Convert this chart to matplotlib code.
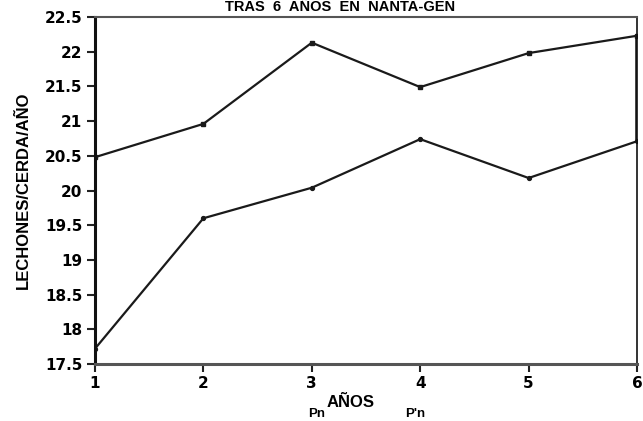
import matplotlib
matplotlib.use('Agg')
import matplotlib.pyplot as plt

plt.rcParams['font.family'] = ['Liberation Sans', 'DejaVu Sans']
plt.rcParams['font.weight'] = 'bold'

years = [1, 2, 3, 4, 5, 6]
pn_prime = [20.48, 20.96, 22.13, 21.49, 21.98, 22.23]
pn = [17.72, 19.60, 20.04, 20.74, 20.18, 20.71]
yticks = [17.5, 18, 18.5, 19, 19.5, 20, 20.5, 21, 21.5, 22, 22.5]
ytick_labels = ['17.5', '18', '18.5', '19', '19.5', '20', '20.5', '21', '21.5', '22', '22.5']

fig = plt.figure(figsize=(6.43, 4.21), dpi=100)
ax = fig.add_axes([0.1477, 0.1354, 0.8430, 0.8242])

ax.plot(years, pn_prime, '-', color='#1a1a1a', linewidth=1.6, marker='s', markersize=3.2)
ax.plot(years, pn, '-', color='#1a1a1a', linewidth=1.6, marker='o', markersize=2.8)
# vertical bar joining the last values
ax.plot([years[-1], years[-1]], [pn[-1], pn_prime[-1]], '-', color='#1a1a1a', linewidth=2.6)

ax.set_xlim(1, 6)
ax.set_ylim(17.5, 22.5)
ax.set_xticks(years)
ax.set_xticklabels([str(y) for y in years], fontsize=11, fontweight='bold', family='DejaVu Sans')
ax.set_yticks(yticks)
ax.set_yticklabels(ytick_labels, fontsize=11, fontweight='bold', family='DejaVu Sans')
ax.tick_params(axis='both', direction='out', length=6, width=1.5, color='#222222', pad=3)

ax.spines['left'].set_linewidth(2.2)
ax.spines['left'].set_color('#111111')
ax.spines['bottom'].set_linewidth(2.2)
ax.spines['bottom'].set_color('#555555')
ax.spines['top'].set_linewidth(1.5)
ax.spines['top'].set_color('#555555')
ax.spines['right'].set_linewidth(1.2)
ax.spines['right'].set_color('#111111')

ax.set_ylabel('LECHONES/CERDA/AÑO', fontsize=12, fontweight='bold', labelpad=10)

fig.text(0.529, 0.999, 'TRAS  6  AÑOS  EN  NANTA-GEN', ha='center', va='top',
         fontsize=10.5, fontweight='bold')
fig.text(0.545, 0.026, 'AÑOS', ha='center', va='bottom', fontsize=12, fontweight='bold')
fig.text(0.492, 0.002, 'Pn', ha='center', va='bottom', fontsize=9.5, fontweight='bold')
fig.text(0.645, 0.002, "P'n", ha='center', va='bottom', fontsize=9.5, fontweight='bold')

fig.savefig('out.png', dpi=100)
plt.close(fig)
